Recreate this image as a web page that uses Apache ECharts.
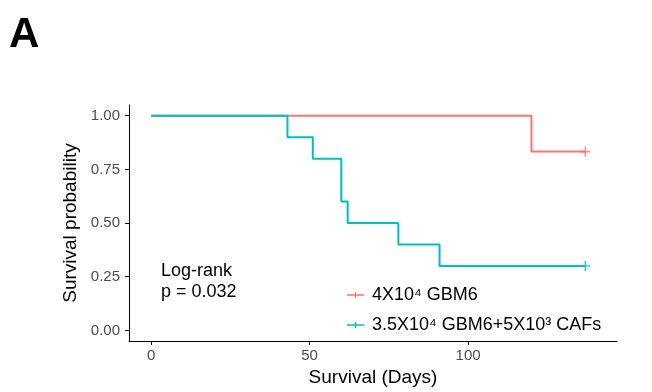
<!DOCTYPE html>
<html><head><meta charset="utf-8">
<script src="https://cdn.jsdelivr.net/npm/echarts@6/dist/echarts.min.js"></script>
<style>html,body{margin:0;padding:0;background:#fff}#c{width:652px;height:392px}</style>
</head><body><div id="c"></div>
<script>
var seriesNames = ['4X10\u2074 GBM6', '3.5X10\u2074 GBM6+5X10\u00B3 CAFs'];
var colors = ['#F8766D', '#00BFC4'];
var gbmTimes = [0, 120, 137];
var gbmSurv = [1.0, 0.833, 0.833];
var cafTimes = [0, 43, 51, 60, 62, 78, 91, 137];
var cafSurv = [1.0, 0.9, 0.8, 0.6, 0.5, 0.4, 0.3, 0.3];
var censorTimes = [[137], [137]];
var censorSurv = [[0.833], [0.3]];
var xTicks = [0, 50, 100];
var yTicks = [0, 0.25, 0.5, 0.75, 1.0];

function pairs(t, s) { return t.map(function (v, i) { return [v, s[i]]; }); }
var plusPath = 'path://M4.2,0h1.6v4.2h4.2v1.6h-4.2v4.2h-1.6v-4.2h-4.2v-1.6h4.2z';
var legendIcon = 'path://M0,4.1h20v1.8h-20z M9.2,1.5h1.6v7h-1.6z';
var font = 'Liberation Sans, Arial, sans-serif';

var chart = echarts.init(document.getElementById('c'));
chart.setOption({
  animation: false,
  title: { text: 'A', left: 4, top: 9, textStyle: { fontSize: 42, fontWeight: 'bold', color: '#000', fontFamily: font } },
  grid: { left: 129, right: 35, top: 105, bottom: 48 },
  legend: {
    orient: 'vertical', left: 342, top: 281, itemGap: 12, itemWidth: 17, itemHeight: 10,
    data: [{ name: seriesNames[0], icon: legendIcon }, { name: seriesNames[1], icon: legendIcon }],
    textStyle: { fontSize: 18, color: '#000', fontFamily: font, padding: [0, 0, 0, 3] }
  },
  graphic: [{
    type: 'text', left: 161, top: 261,
    style: { text: 'Log-rank\np = 0.032', fontSize: 18, lineHeight: 21, fill: '#000', fontFamily: font }
  }],
  xAxis: {
    type: 'value', min: -7, max: 147,
    name: 'Survival (Days)', nameLocation: 'middle', nameGap: 24,
    nameTextStyle: { fontSize: 19, color: '#000', fontFamily: font },
    axisLine: { onZero: false, lineStyle: { color: '#000', width: 1 } },
    axisTick: { show: true, length: 4, customValues: xTicks, lineStyle: { color: '#000' } },
    axisLabel: { customValues: xTicks, fontSize: 15, color: '#4d4d4d', margin: 7, fontFamily: font },
    splitLine: { show: false }
  },
  yAxis: {
    type: 'value', min: -0.05, max: 1.05,
    name: 'Survival probability', nameLocation: 'middle', nameGap: 44,
    nameTextStyle: { fontSize: 19, color: '#000', fontFamily: font },
    axisLine: { show: true, onZero: false, lineStyle: { color: '#000', width: 1 } },
    axisTick: { show: true, length: 4, customValues: yTicks, lineStyle: { color: '#000' } },
    axisLabel: { customValues: yTicks, fontSize: 15, color: '#4d4d4d', margin: 9, fontFamily: font,
      formatter: function (v) { return v.toFixed(2); } },
    splitLine: { show: false }
  },
  series: [
    { name: seriesNames[0], type: 'line', step: 'end', data: pairs(gbmTimes, gbmSurv), showSymbol: false,
      lineStyle: { color: colors[0], width: 2 }, itemStyle: { color: colors[0] } },
    { name: seriesNames[1], type: 'line', step: 'end', data: pairs(cafTimes, cafSurv), showSymbol: false,
      lineStyle: { color: colors[1], width: 2 }, itemStyle: { color: colors[1] } },
    { name: seriesNames[0], type: 'scatter', symbol: plusPath, symbolSize: 10,
      data: pairs(censorTimes[0], censorSurv[0]), itemStyle: { color: colors[0] } },
    { name: seriesNames[1], type: 'scatter', symbol: plusPath, symbolSize: 10,
      data: pairs(censorTimes[1], censorSurv[1]), itemStyle: { color: colors[1] } }
  ]
});
</script></body></html>
